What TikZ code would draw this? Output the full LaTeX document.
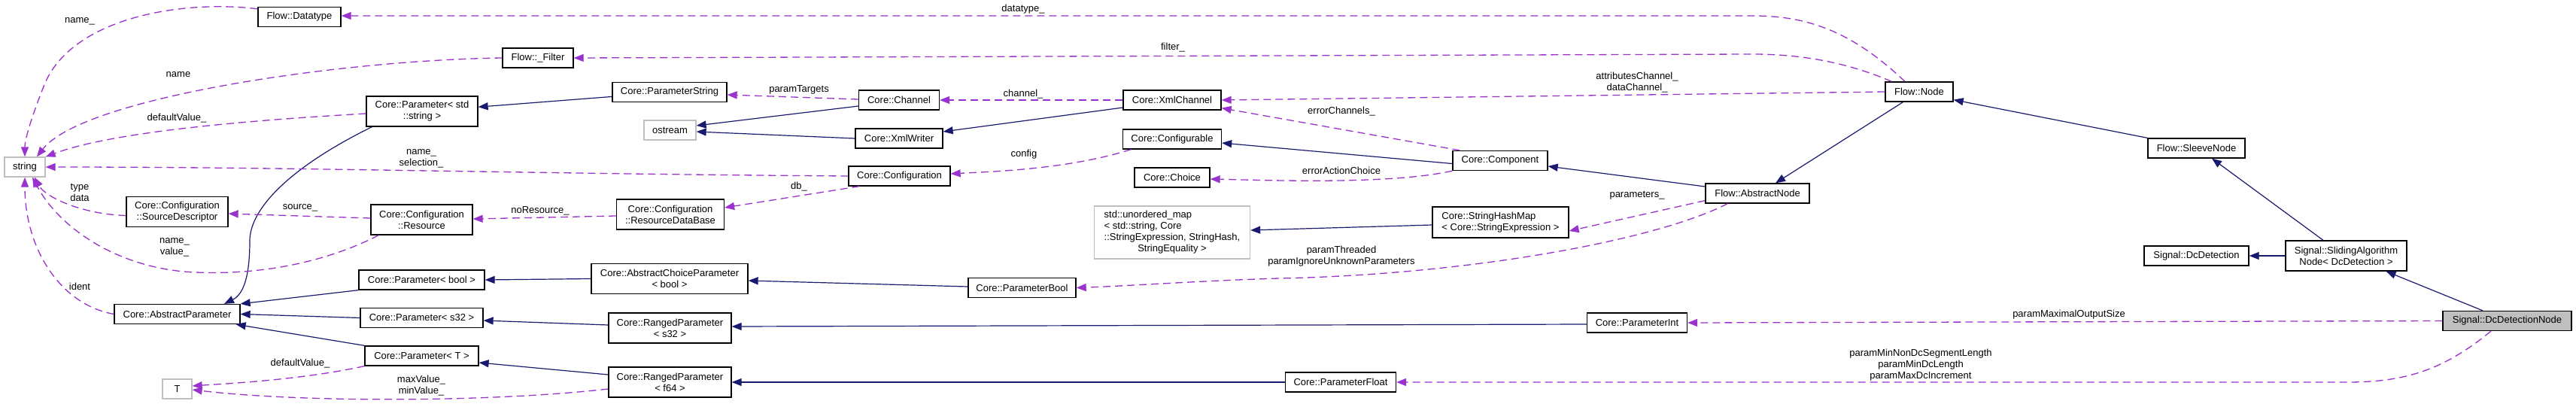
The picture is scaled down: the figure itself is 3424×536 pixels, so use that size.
\documentclass[tikz,border=0pt]{standalone}
\usepackage{fontspec}
\setmainfont{Liberation Sans}
\usetikzlibrary{arrows.meta}
\definecolor{inhc}{HTML}{191970}
\definecolor{usec}{HTML}{9A32CD}
\definecolor{grayb}{HTML}{BFBFBF}
\begin{document}
\begin{tikzpicture}[x=1pt,y=-1pt,
  cls/.style={draw=black, line width=1.3pt, fill=white, inner sep=0pt, minimum height=26pt, font=\fontsize{13}{15}\selectfont, align=center},
  twol/.style={minimum height=40pt},
  ext/.style={cls, draw=grayb},
  lbl/.style={font=\fontsize{13}{15}\selectfont, align=center, inner sep=0pt},
  inh/.style={draw=inhc, line width=1.2pt, -{Triangle[length=13pt,width=10pt]}},
  use/.style={draw=usec, line width=1.3pt, dash pattern=on 10pt off 6pt, -{Triangle[length=13pt,width=10pt]}}
]
\useasboundingbox[fill=white] (0,0) rectangle (3424,536);

% nodes
\node[cls, minimum width=110pt] (dt) at (398,22.5) {Flow::Datatype};
\node[cls, minimum width=94pt] (filt) at (715,77) {Flow::\_Filter};
\node[cls, twol, minimum width=148pt] (pstr) at (561,148) {Core::Parameter< std\\::string >};
\node[ext, minimum width=54pt] (str) at (33,222) {string};
\node[cls, twol, minimum width=135pt] (srcd) at (235.5,281.5) {Core::Configuration\\::SourceDescriptor};
\node[cls, twol, minimum width=135pt] (res) at (560.5,292) {Core::Configuration\\::Resource};
\node[cls, minimum width=167pt] (pbool) at (560.5,372) {Core::Parameter< bool >};
\node[cls, minimum width=167pt] (ap) at (235.5,417.5) {Core::AbstractParameter};
\node[cls, minimum width=163pt] (ps32) at (560.5,422.5) {Core::Parameter< s32 >};
\node[cls, minimum width=151pt] (pT) at (560.5,473) {Core::Parameter< T >};
\node[ext, minimum width=39pt] (T) at (235.5,517) {T};
\node[cls, minimum width=152pt] (pstring) at (890,122.5) {Core::ParameterString};
\node[cls, minimum width=107pt] (chan) at (1195,133) {Core::Channel};
\node[ext, minimum width=69pt] (ostream) at (890.5,173) {ostream};
\node[cls, minimum width=116pt] (xmlw) at (1195,184) {Core::XmlWriter};
\node[cls, minimum width=130pt] (xmlc) at (1558,133) {Core::XmlChannel};
\node[cls, minimum width=131pt] (confable) at (1558,185) {Core::Configurable};
\node[cls, minimum width=135pt] (conf) at (1195.5,234) {Core::Configuration};
\node[cls, minimum width=100pt] (choice) at (1558,236) {Core::Choice};
\node[cls, twol, minimum width=143pt] (rdb) at (891,285) {Core::Configuration\\::ResourceDataBase};
\node[cls, twol, minimum width=208pt] (acp) at (890,370.5) {Core::AbstractChoiceParameter\\< bool >};
\node[cls, minimum width=143pt] (pbool2) at (1358.5,382.5) {Core::ParameterBool};
\node[cls, twol, minimum width=163pt] (rs32) at (890.5,436) {Core::RangedParameter\\< s32 >};
\node[cls, twol, minimum width=163pt] (rf64) at (890.5,508) {Core::RangedParameter\\< f64 >};
\node[ext, minimum width=207pt, minimum height=70pt] (umap) at (1558,309) {\begin{tabular}{@{}l@{}}std::unordered\_map\\< std::string, Core\\::StringExpression, StringHash,\\\multicolumn{1}{@{}c@{}}{StringEquality >}\end{tabular}};
\node[cls, minimum width=90pt] (node) at (2551,122) {Flow::Node};
\node[cls, minimum width=126pt] (comp) at (1994,213.5) {Core::Component};
\node[cls, minimum width=138pt] (an) at (2336,257) {Flow::AbstractNode};
\node[cls, minimum width=181pt, minimum height=41pt, align=left] (shm) at (1994.5,295.5) {Core::StringHashMap\\< Core::StringExpression >};
\node[cls, minimum width=133pt] (pint) at (2176,429) {Core::ParameterInt};
\node[cls, minimum width=147pt] (pfloat) at (1782,508) {Core::ParameterFloat};
\node[cls, minimum width=129pt] (sleeve) at (2919.5,197) {Flow::SleeveNode};
\node[cls, minimum width=139pt] (dcd) at (2919.5,340) {Signal::DcDetection};
\node[cls, twol, minimum width=161pt] (san) at (3118.5,340) {Signal::SlidingAlgorithm\\Node< DcDetection >};
\node[cls, fill=grayb, minimum width=171pt] (ddn) at (3332.5,426.5) {Signal::DcDetectionNode};

% inheritance
\draw[inh] (pstring) -- (pstr);
\draw[inh] ([xshift=8pt]pstr.south west) .. controls (380,225) and (332,280) .. (332,320) .. controls (332,372) and (322,392) .. ([xshift=62.5pt]ap.north);
\draw[inh] (pbool.south west) -- (ap.north east);
\draw[inh] (ps32.west) -- (ap.east);
\draw[inh] (pT.north west) -- ([xshift=-6pt]ap.south east);
\draw[inh] ([yshift=-8pt]chan.west) -- ([yshift=6pt]ostream.east);
\draw[inh] (xmlw.west) -- ([yshift=-2pt]ostream.east);
\draw[inh] ([yshift=-10pt]xmlc.west) -- ([yshift=9pt]xmlw.east);
\draw[inh] ([yshift=-4pt]comp.west) -- ([yshift=-5pt]confable.east);
\draw[inh] ([yshift=9pt]an.west) -- ([yshift=-7.5pt]comp.east);
\draw[inh] ([xshift=-21.5pt]node.south) -- ([xshift=24pt]an.north);
\draw[inh] (sleeve.north west) -- ([yshift=3pt]node.south east);
\draw[inh] ([xshift=-30.5pt]san.north) -- ([xshift=20.5pt]sleeve.south);
\draw[inh] (san.west) -- (dcd.east);
\draw[inh] ([xshift=-32.5pt]ddn.north) -- ([xshift=53pt]san.south);
\draw[inh] ([yshift=-3.5pt]shm.west) -- ([yshift=3pt]umap.east);
\draw[inh] (acp.west) -- (pbool.east);
\draw[inh] ([yshift=1.5pt]pbool2.west) -- ([yshift=-2.5pt]acp.east);
\draw[inh] ([yshift=4pt]rs32.west) -- ([yshift=-3.5pt]ps32.east);
\draw[inh] ([yshift=-2pt]pint.west) -- ([yshift=2pt]rs32.east);
\draw[inh] ([yshift=10pt]rf64.west) -- ([yshift=-9pt]pT.east);
\draw[inh] (pfloat.west) -- (rf64.east);

% usage
\draw[use] ([yshift=-3pt]dt.north west) .. controls (250,0) and (100,20) .. (60,110) .. controls (42,155) and (33,185) .. (str.north);
\draw[use] (filt.west) .. controls (450,80) and (110,130) .. ([xshift=16pt]str.north);
\draw[use] ([yshift=-3pt]pstr.west) .. controls (330,160) and (150,175) .. (str.north east);
\draw[use] (conf.west) .. controls (700,231) and (400,222) .. (str.east);
\draw[use] ([yshift=-5pt]srcd.west) .. controls (110,285) and (60,262) .. ([xshift=13pt]str.south);
\draw[use] ([xshift=11pt]res.south west) .. controls (420,355) and (330,365) .. (260,362) .. controls (160,358) and (80,305) .. ([xshift=10pt]str.south);
\draw[use] (ap.west) .. controls (80,405) and (33,330) .. (str.south);
\draw[use] (pT.south west) .. controls (400,505) and (300,510) .. ([yshift=4pt]T.east);
\draw[use] ([yshift=-9pt]rf64.west) .. controls (650,535) and (400,535) .. ([yshift=-1pt]T.east);
\draw[use] ([yshift=1pt]chan.west) -- ([yshift=-3.5pt]pstring.east);
\draw[use] (xmlc.west) -- (chan.east);
\draw[use] (node.west) -- (xmlc.east);
\draw[use] ([xshift=10pt]comp.north west) -- ([yshift=3pt]xmlc.south east);
\draw[use] ([xshift=11.5pt]confable.south west) .. controls (1420,225) and (1320,228) .. ([yshift=3pt]conf.east);
\draw[use] ([xshift=15pt]conf.south west) -- ([yshift=9pt]rdb.east);
\draw[use] ([yshift=-2pt]rdb.west) -- ([yshift=1pt]res.east);
\draw[use] ([yshift=2pt]res.west) -- ([yshift=-2.5pt]srcd.east);
\draw[use] (comp.south west) .. controls (1850,245) and (1700,240) .. ([yshift=-2pt]choice.east);
\draw[use] ([xshift=-19pt]node.north) .. controls (2460,40) and (2400,21) .. (2330,21) -- ([yshift=1.5pt]dt.east);
\draw[use] ([xshift=9pt]node.north west) .. controls (2460,85) and (2400,72) .. (2330,72) -- (filt.east);
\draw[use] ([yshift=4pt]an.south west) -- ([yshift=-11.5pt]shm.east);
\draw[use] ([xshift=30pt]an.south west) .. controls (2200,320) and (1950,365) .. (1700,370) .. controls (1600,373) and (1500,380) .. (pbool2.east);
\draw[use] (ddn.west) -- (pint.east);
\draw[use] ([xshift=-21.5pt]ddn.south) .. controls (3250,490) and (3200,508) .. (3120,508) -- (pfloat.east);

% labels
\node[lbl] (l1) at (106,28) {name\_};
\node[lbl] (l2) at (237,99) {name};
\node[lbl] (l3) at (235,157) {defaultValue\_};
\node[lbl] (l4) at (560,210.5) {name\_\\selection\_};
\node[lbl] (l5) at (106,255.5) {type\\data};
\node[lbl] (l6) at (232,328.5) {name\_\\value\_};
\node[lbl] (l7) at (106,381) {ident};
\node[lbl] (l8) at (399,483) {defaultValue\_};
\node[lbl] (l9) at (560,512.5) {maxValue\_\\minValue\_};
\node[lbl] (l10) at (399,276) {source\_};
\node[lbl] (l11) at (718,280) {noResource\_};
\node[lbl] (l12) at (1062,119) {paramTargets};
\node[lbl] (l13) at (1360,125) {channel\_};
\node[lbl] (l14) at (2176,110) {attributesChannel\_\\dataChannel\_};
\node[lbl] (l15) at (1783,148) {errorChannels\_};
\node[lbl] (l16) at (1361,205) {config};
\node[lbl] (l17) at (1062,248) {db\_};
\node[lbl] (l18) at (1783,227) {errorActionChoice};
\node[lbl] (l19) at (1360,12) {datatype\_};
\node[lbl] (l20) at (1559,63) {filter\_};
\node[lbl] (l21) at (2176,260) {parameters\_};
\node[lbl] (l22) at (1783,340.5) {paramThreaded\\paramIgnoreUnknownParameters};
\node[lbl] (l23) at (2750,418) {paramMaximalOutputSize};
\node[lbl] (l24) at (2553,485) {paramMinNonDcSegmentLength\\paramMinDcLength\\paramMaxDcIncrement};
\end{tikzpicture}
\end{document}
